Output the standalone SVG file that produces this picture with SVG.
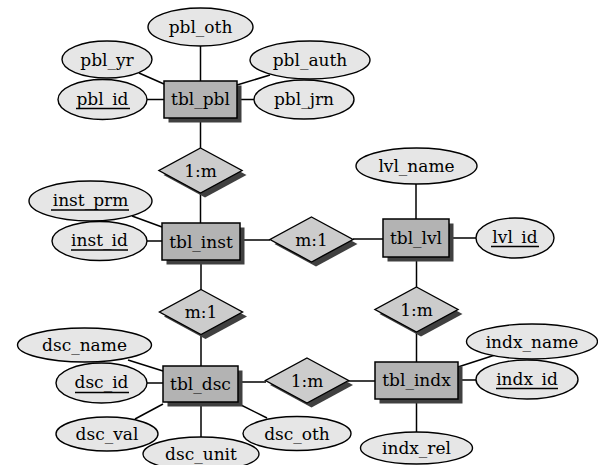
<svg xmlns="http://www.w3.org/2000/svg" width="598" height="465" viewBox="0 0 598 465">
<defs>
<style>
.attr{fill:#e6e6e6;stroke:#000;stroke-width:1.4}
.ent{fill:#b3b3b3;stroke:#000;stroke-width:1.5}
.rel{fill:#cccccc;stroke:#000;stroke-width:1.4}
.sh{fill:#404040;stroke:none}
.c line{stroke:#000;stroke-width:1.5}
text{font-family:"DejaVu Serif","Liberation Serif",serif;font-size:17px;fill:#000;text-anchor:middle}
.ul{stroke:#000;stroke-width:1.6}
</style>
</defs>
<rect width="598" height="465" fill="#fff"/>
<g class="c" id="connectors">
<line x1="200.5" y1="46" x2="200.5" y2="81"/>
<line x1="139" y1="73" x2="164" y2="84"/>
<line x1="147" y1="99.5" x2="164" y2="99.5"/>
<line x1="237" y1="85" x2="270" y2="75"/>
<line x1="237" y1="99.5" x2="254" y2="99.5"/>
<line x1="200.5" y1="118" x2="200.5" y2="148"/>
<line x1="200.5" y1="193" x2="200.5" y2="223"/>
<line x1="132" y1="216" x2="162" y2="227"/>
<line x1="147" y1="241" x2="162" y2="241"/>
<line x1="240" y1="240" x2="270" y2="240"/>
<line x1="353" y1="239" x2="383" y2="239"/>
<line x1="416" y1="184" x2="416" y2="219"/>
<line x1="449" y1="238" x2="476" y2="238"/>
<line x1="416.5" y1="257" x2="416.5" y2="287"/>
<line x1="416.5" y1="332" x2="416.5" y2="362"/>
<line x1="458" y1="367" x2="495" y2="355"/>
<line x1="458" y1="380" x2="476" y2="380"/>
<line x1="416.5" y1="399" x2="416.5" y2="432"/>
<line x1="348" y1="381" x2="375" y2="381"/>
<line x1="238" y1="382" x2="266" y2="382"/>
<line x1="201" y1="260" x2="201" y2="290"/>
<line x1="201" y1="334" x2="201" y2="366"/>
<line x1="128" y1="360" x2="163" y2="371"/>
<line x1="147" y1="383" x2="163" y2="383"/>
<line x1="163" y1="404" x2="135" y2="419"/>
<line x1="201" y1="402" x2="201" y2="437"/>
<line x1="237" y1="403" x2="267" y2="418"/>
</g>
<g id="pbl_oth"><ellipse class="attr" cx="200.5" cy="27" rx="52.5" ry="19"/><text x="200.5" y="33">pbl_oth</text></g>
<g id="pbl_yr"><ellipse class="attr" cx="107" cy="59.5" rx="45" ry="18.5"/><text x="107" y="65.5">pbl_yr</text></g>
<g id="pbl_id"><ellipse class="attr" cx="102.5" cy="99.5" rx="44.5" ry="20"/><text x="102.5" y="104.5">pbl_id</text><line class="ul" x1="76" y1="108.5" x2="130" y2="108.5"/></g>
<g id="pbl_auth"><ellipse class="attr" cx="310" cy="60" rx="60" ry="19"/><text x="310" y="66">pbl_auth</text></g>
<g id="pbl_jrn"><ellipse class="attr" cx="304" cy="99.5" rx="50" ry="19.5"/><text x="304" y="105">pbl_jrn</text></g>
<g id="tbl_pbl"><rect class="sh" x="168.5" y="85.5" width="73" height="37"/><rect class="ent" x="164" y="81" width="73" height="37"/><text x="200.5" y="105">tbl_pbl</text></g>
<g id="rel_pbl_inst"><polygon class="sh" points="205,152.5 246.5,175 205,197.5 163.5,175"/><polygon class="rel" points="200.5,148 242,170.5 200.5,193 159,170.5"/><text x="200.5" y="176.5">1:m</text></g>
<g id="tbl_inst"><rect class="sh" x="166.5" y="227.5" width="78" height="37"/><rect class="ent" x="162" y="223" width="78" height="37"/><text x="201" y="247.5">tbl_inst</text></g>
<g id="inst_prm"><ellipse class="attr" cx="90.5" cy="201" rx="61.5" ry="20"/><text x="90.5" y="206">inst_prm</text><line class="ul" x1="51" y1="210" x2="129" y2="210"/></g>
<g id="inst_id"><ellipse class="attr" cx="99.5" cy="241" rx="47.5" ry="19.5"/><text x="99.5" y="246">inst_id</text><line class="ul" x1="71" y1="250" x2="128" y2="250"/></g>
<g id="rel_inst_lvl"><polygon class="sh" points="316,221.5 357.5,244 316,266.5 274.5,244"/><polygon class="rel" points="311.5,217 353,239.5 311.5,262 270,239.5"/><text x="311.5" y="245.5">m:1</text></g>
<g id="tbl_lvl"><rect class="sh" x="387.5" y="223.5" width="66" height="38"/><rect class="ent" x="383" y="219" width="66" height="38"/><text x="416" y="244">tbl_lvl</text></g>
<g id="lvl_name"><ellipse class="attr" cx="416.5" cy="166" rx="60.5" ry="18"/><text x="416.5" y="172">lvl_name</text></g>
<g id="lvl_id"><ellipse class="attr" cx="515" cy="238" rx="39" ry="20"/><text x="515" y="243">lvl_id</text><line class="ul" x1="491" y1="246.5" x2="539" y2="246.5"/></g>
<g id="rel_lvl_indx"><polygon class="sh" points="421,291.5 462.5,314 421,336.5 379.5,314"/><polygon class="rel" points="416.5,287 458,309.5 416.5,332 375,309.5"/><text x="416.5" y="315.5">1:m</text></g>
<g id="tbl_indx"><rect class="sh" x="379.5" y="366.5" width="83" height="37"/><rect class="ent" x="375" y="362" width="83" height="37"/><text x="416.5" y="386">tbl_indx</text></g>
<g id="indx_name"><ellipse class="attr" cx="532" cy="341.5" rx="65.5" ry="17.5"/><text x="532" y="347.5">indx_name</text></g>
<g id="indx_id"><ellipse class="attr" cx="527" cy="379.5" rx="51" ry="19.5"/><text x="527" y="385">indx_id</text><line class="ul" x1="496" y1="388.5" x2="558" y2="388.5"/></g>
<g id="indx_rel"><ellipse class="attr" cx="416.5" cy="448" rx="56" ry="16"/><text x="416.5" y="454">indx_rel</text></g>
<g id="rel_dsc_indx"><polygon class="sh" points="311.5,362.5 353,385 311.5,407.5 270,385"/><polygon class="rel" points="307,358 348.5,380.5 307,403 265.5,380.5"/><text x="307" y="386.5">1:m</text></g>
<g id="rel_inst_dsc"><polygon class="sh" points="205.5,294 247,316.5 205.5,339 164,316.5"/><polygon class="rel" points="201,289.5 242.5,312 201,334.5 159.5,312"/><text x="201" y="318">m:1</text></g>
<g id="tbl_dsc"><rect class="sh" x="167.5" y="370.5" width="75" height="36"/><rect class="ent" x="163" y="366" width="75" height="36"/><text x="200.5" y="389.5">tbl_dsc</text></g>
<g id="dsc_name"><ellipse class="attr" cx="84.5" cy="345" rx="67" ry="17"/><text x="84.5" y="351">dsc_name</text></g>
<g id="dsc_id"><ellipse class="attr" cx="101.5" cy="383" rx="45.5" ry="20"/><text x="101.5" y="388">dsc_id</text><line class="ul" x1="75" y1="392.5" x2="129" y2="392.5"/></g>
<g id="dsc_val"><ellipse class="attr" cx="107" cy="434" rx="51" ry="17"/><text x="107" y="440">dsc_val</text></g>
<g id="dsc_unit"><ellipse class="attr" cx="201" cy="454" rx="58" ry="17"/><text x="201" y="460">dsc_unit</text></g>
<g id="dsc_oth"><ellipse class="attr" cx="297" cy="433.5" rx="54" ry="17"/><text x="297" y="439.5">dsc_oth</text></g>
</svg>
